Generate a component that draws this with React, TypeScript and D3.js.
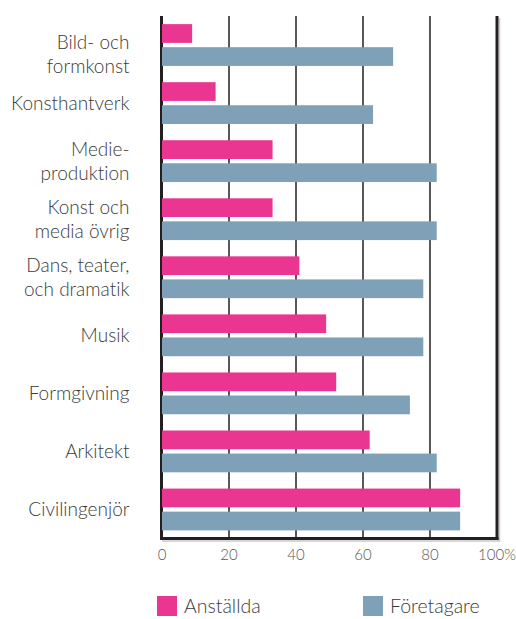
import React from "react";
import * as d3 from "d3";

const categories = [
  "Bild- och\nformkonst",
  "Konsthantverk",
  "Medie-\nproduktion",
  "Konst och\nmedia övrig",
  "Dans, teater,\noch dramatik",
  "Musik",
  "Formgivning",
  "Arkitekt",
  "Civilingenjör",
];
const seriesNames = ["Anställda", "Företagare"];
const anstallda = [9, 16, 33, 33, 41, 49, 52, 62, 89];
const foretagare = [69, 63, 82, 82, 78, 78, 74, 82, 89];
const xTicks = [0, 20, 40, 60, 80, 100];
const colors = ["#EA3690", "#7EA1B7"];

const W = 516;
const H = 619;
const FONT = "Lato, 'Open Sans', sans-serif";

export default function App() {
  const x = d3.scaleLinear().domain([0, 100]).range([162, 497]);
  const y = d3
    .scaleBand<string>()
    .domain(categories)
    .range([16, 538.5])
    .paddingInner(0.28)
    .paddingOuter(0.14);
  const inner = d3
    .scaleBand<string>()
    .domain(seriesNames)
    .range([0, y.bandwidth()])
    .paddingInner(0.187);
  const values = [anstallda, foretagare];
  const top = 16;
  const bottom = 538.5;

  return (
    <svg
      width={W}
      height={H}
      style={{ position: "absolute", left: 0, top: 0, fontVariantLigatures: "none" }}
      fontFamily={FONT}
    >
      <rect width={W} height={H} fill="#fff" />
      {/* shadows */}
      <line x1={x(0)} x2={x(100) + 3} y1={bottom + 2.5} y2={bottom + 2.5} stroke="#c8c8c8" strokeWidth={1.5} />
      <line x1={x(100) + 2.5} x2={x(100) + 2.5} y1={top + 2} y2={bottom + 3} stroke="#c8c8c8" strokeWidth={1.5} />
      {/* gridlines */}
      {xTicks.slice(1, -1).map((t) => (
        <line key={t} x1={x(t)} x2={x(t)} y1={top} y2={bottom} stroke="#231f20" strokeWidth={1.5} />
      ))}
      {/* frame */}
      <line x1={x(0) - 0.5} x2={x(0) - 0.5} y1={top} y2={bottom + 1.5} stroke="#231f20" strokeWidth={3} />
      <line x1={x(100)} x2={x(100)} y1={top} y2={bottom + 1.5} stroke="#231f20" strokeWidth={3} />
      <line x1={x(0) - 2} x2={x(100) + 1.5} y1={bottom} y2={bottom} stroke="#231f20" strokeWidth={3} />
      {/* bars */}
      {categories.map((c, i) =>
        seriesNames.map((s, j) => (
          <rect
            key={c + s}
            x={x(0)}
            y={(y(c) as number) + (inner(s) as number)}
            width={x(values[j][i]) - x(0)}
            height={inner.bandwidth()}
            fill={colors[j]}
          />
        ))
      )}
      {/* category labels */}
      {categories.map((c, i) => {
        const lines = c.split("\n");
        const cy = (y(c) as number) + y.bandwidth() / 2 + (i === 0 ? 9 : 0);
        const lh = 23.5;
        return (
          <text key={c} x={129.5} textAnchor="end" fontSize={19} fontWeight={300} fill="#3a3a3a">
            {lines.map((l, k) => (
              <tspan key={k} x={129.5} y={cy + (k - (lines.length - 1) / 2) * lh} dy="0.36em">
                {l}
              </tspan>
            ))}
          </text>
        );
      })}
      {/* x tick labels */}
      {xTicks.map((t) => (
        <text
          key={t}
          x={x(t)}
          y={555}
          dy="0.36em"
          textAnchor="middle"
          fontSize={15}
          fontWeight={300}
          fill="#555"
        >
          {t === 100 ? "100%" : String(t)}
        </text>
      ))}
      {/* legend */}
      {seriesNames.map((s, j) => {
        const lx = j === 0 ? 157 : 363;
        return (
          <g key={s}>
            <rect x={lx} y={596} width={20} height={20} fill={colors[j]} />
            <text x={lx + 27} y={613} fontSize={19.5} fontWeight={300} fill="#3a3a3a">
              {s}
            </text>
          </g>
        );
      })}
    </svg>
  );
}
